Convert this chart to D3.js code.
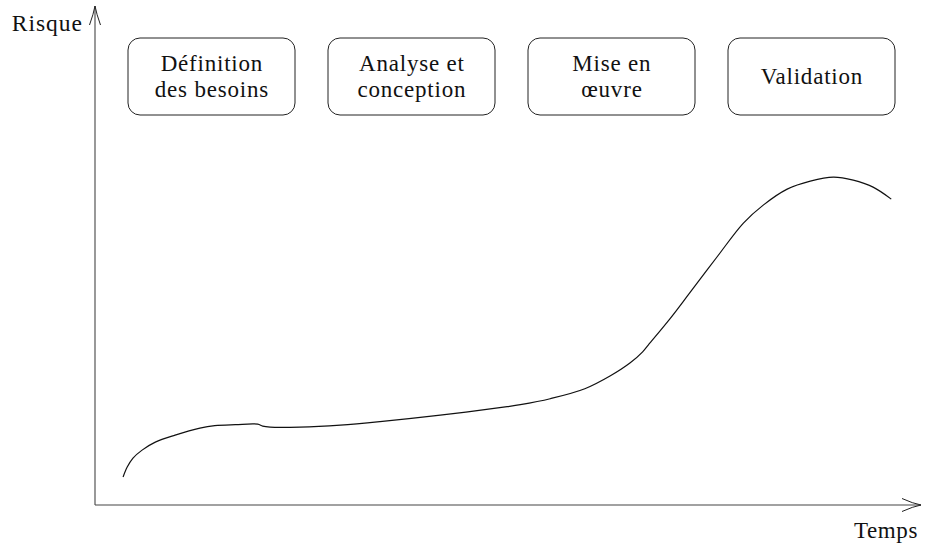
<!DOCTYPE html>
<html>
<head>
<meta charset="utf-8">
<script src="https://cdn.jsdelivr.net/npm/d3@7"></script>
<style>
  html, body { margin: 0; padding: 0; background: #fff; }
  svg { display: block; }
</style>
</head>
<body>
<svg id="chart" width="925" height="549"></svg>
<script>
// ---- Data (time in % of project, risk in % of max axis) ----
const timeValues = [3.4, 3.9, 4.6, 5.7, 7.3, 9.7, 12.7, 14.5, 17.0, 19.7, 20.3, 21.2, 24.8, 29.7, 34.5, 41.8, 49.9, 51.5, 55.1, 59.3, 62.4, 64.8, 66.3, 67.0, 69.6, 72.0, 75.3, 78.5, 80.9, 83.8, 86.6, 89.4, 91.8, 94.2, 96.4];
const riskValues = [5.6, 7.6, 9.4, 11.0, 12.6, 14.0, 15.4, 15.9, 16.1, 16.2, 15.8, 15.6, 15.6, 16.0, 16.7, 18.0, 19.7, 20.1, 21.3, 23.3, 25.9, 28.5, 30.7, 32.1, 37.3, 42.5, 49.7, 56.5, 60.1, 63.3, 64.9, 65.7, 65.1, 63.7, 61.3];
const phases = [
  ["Définition", "des besoins"],
  ["Analyse et", "conception"],
  ["Mise en", "œuvre"],
  ["Validation"]
];
const xLabel = "Temps";
const yLabel = "Risque";

// ---- Layout ----
const svg = d3.select("#chart");
const font = "'Liberation Serif', 'DejaVu Serif', serif";
const x = d3.scaleLinear().domain([0, 100]).range([95, 921]);
const y = d3.scaleLinear().domain([0, 100]).range([505, 6]);

// Axes
const axisColor = "#444";
svg.append("line")
  .attr("x1", x(0)).attr("y1", y(0)).attr("x2", x(100)).attr("y2", y(0))
  .attr("stroke", axisColor).attr("stroke-width", 1.1);
svg.append("line")
  .attr("x1", x(0)).attr("y1", y(0)).attr("x2", x(0)).attr("y2", y(100))
  .attr("stroke", axisColor).attr("stroke-width", 1.1);

// Arrow heads (open, LaTeX style)
const ax = x(100), ay = y(0);
svg.append("path")
  .attr("d", `M${ax-19},${ay-6.5} Q${ax-8},${ay-1.5} ${ax},${ay} Q${ax-8},${ay+1.5} ${ax-19},${ay+6.5}`)
  .attr("fill", "none").attr("stroke", "#222").attr("stroke-width", 1);
const vx = x(0), vy = y(100);
svg.append("path")
  .attr("d", `M${vx-5.5},${vy+19} Q${vx-1.5},${vy+8} ${vx},${vy} Q${vx+1.5},${vy+8} ${vx+5.5},${vy+19}`)
  .attr("fill", "none").attr("stroke", "#222").attr("stroke-width", 1);

// Axis labels
svg.append("text")
  .attr("x", x(0) - 12).attr("y", 31)
  .attr("text-anchor", "end")
  .attr("font-family", font).attr("font-size", 23.5)
  .attr("letter-spacing", 1)
  .attr("fill", "#111")
  .text(yLabel);
svg.append("text")
  .attr("x", 918).attr("y", 538)
  .attr("text-anchor", "end")
  .attr("font-family", font).attr("font-size", 23)
  .attr("letter-spacing", 0.6)
  .attr("fill", "#111")
  .text(xLabel);

// Phase boxes
const boxW = 167;
const boxX = d3.scalePoint().domain(d3.range(phases.length)).range([128, 728]);
const boxTop = 38, boxH = 77;
const g = svg.selectAll("g.phase").data(phases).join("g").attr("class", "phase");
g.append("rect")
  .attr("x", (d, i) => boxX(i))
  .attr("y", boxTop)
  .attr("width", boxW)
  .attr("height", boxH)
  .attr("rx", 12).attr("ry", 12)
  .attr("fill", "none").attr("stroke", "#222").attr("stroke-width", 1);
g.each(function(d, i) {
  const cx = boxX(i) + boxW / 2;
  const lineH = 26;
  const firstBase = boxTop + boxH / 2 + 8 - (d.length - 1) * lineH / 2 - 1;
  d3.select(this).selectAll("text").data(d).join("text")
    .attr("x", cx + 0.4)
    .attr("y", (s, j) => firstBase + j * lineH)
    .attr("text-anchor", "middle")
    .attr("font-family", font).attr("font-size", 23)
    .attr("letter-spacing", 0.8)
    .attr("fill", "#111")
    .text(s => s);
});

// Risk curve
const pts = timeValues.map((t, i) => [t, riskValues[i]]);
const line = d3.line().x(d => x(d[0])).y(d => y(d[1])).curve(d3.curveCatmullRom.alpha(0.5));
svg.append("path")
  .attr("d", line(pts))
  .attr("fill", "none").attr("stroke", "#111").attr("stroke-width", 1.2);
</script>
</body>
</html>
